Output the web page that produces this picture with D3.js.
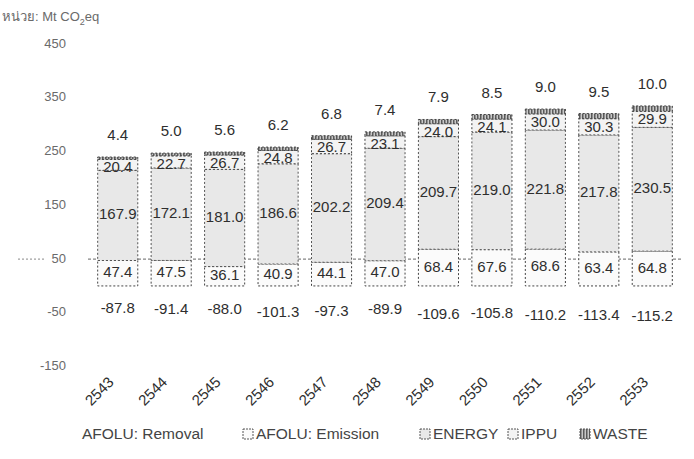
<!DOCTYPE html>
<html>
<head>
<meta charset="utf-8">
<script src="https://cdn.jsdelivr.net/npm/d3@7"></script>
<style>
	body { margin: 0; background: #fff; }
	svg { font-family: "Liberation Sans", Arial, sans-serif; }
	.axisText { fill: #6a6a6a; font-size: 13px; }
	.valueText { fill: #2e2e2e; font-size: 15px; }
	.legendText { fill: #444; font-size: 15.5px; }
</style>
</head>
<body>
<div id="chart"></div>
<script>

// chart data, values in Mt CO2eq
var years = ["2543","2544","2545","2546","2547","2548","2549","2550","2551","2552","2553"];
var afoluRemoval  = [-87.8, -91.4, -88.0, -101.3, -97.3, -89.9, -109.6, -105.8, -110.2, -113.4, -115.2];
var afoluEmission = [47.4, 47.5, 36.1, 40.9, 44.1, 47.0, 68.4, 67.6, 68.6, 63.4, 64.8];
var energy        = [167.9, 172.1, 181.0, 186.6, 202.2, 209.4, 209.7, 219.0, 221.8, 217.8, 230.5];
var ippu          = [20.4, 22.7, 26.7, 24.8, 26.7, 23.1, 24.0, 24.1, 30.0, 30.3, 29.9];
var waste         = [4.4, 5.0, 5.6, 6.2, 6.8, 7.4, 7.9, 8.5, 9.0, 9.5, 10.0];
var yTicks = [-150, -50, 50, 150, 250, 350, 450];
var seriesNames = ["AFOLU: Removal", "AFOLU: Emission", "ENERGY", "IPPU", "WASTE"];

var width = 694, height = 459;

var svg = d3.select("#chart").append("svg")
	.attr("width", width).attr("height", height);

// hatch pattern for the waste segments
var pat = svg.append("defs").append("pattern")
	.attr("id", "hatch")
	.attr("patternUnits", "userSpaceOnUse")
	.attr("width", 3).attr("height", 3);
pat.append("rect").attr("width", 3).attr("height", 3).attr("fill", "#c8c8c8");
pat.append("rect").attr("width", 1.5).attr("height", 3).attr("fill", "#5a5a5a");

var xScale = d3.scaleBand().domain(years).range([91, 679]).paddingInner(0.25).paddingOuter(0.125);
var yScale = d3.scaleLinear().domain([-150, 450]).range([366.5, 44.3]);

// y axis title and labels, no axis line in the original
svg.append("text")
	.attr("class", "axisText")
	.attr("font-size", "14px")
	.attr("x", 2).attr("y", 21)
	.html("หน่วย: Mt CO<tspan dy='4' font-size='9'>2</tspan><tspan dy='-4'>eq</tspan>");

svg.selectAll(".yLabel").data(yTicks).enter().append("text")
	.attr("class", "axisText yLabel")
	.attr("x", 66)
	.attr("y", function(d){ return yScale(d); })
	.attr("text-anchor", "end")
	.attr("dominant-baseline", "middle")
	.text(function(d){ return d; });

// dashed guide line at 50
svg.append("line")
	.attr("x1", 18).attr("x2", 44)
	.attr("y1", yScale(50)).attr("y2", yScale(50))
	.attr("stroke", "#888").attr("stroke-dasharray", "2,2");
svg.append("line")
	.attr("x1", 88).attr("x2", 682)
	.attr("y1", yScale(50)).attr("y2", yScale(50))
	.attr("stroke", "#666").attr("stroke-dasharray", "3,2");

// build stacked segments
var segments = [];
years.forEach(function(yr, i){
	segments.push({ year: yr, s: 0, y0: afoluRemoval[i], y1: 0, v: afoluRemoval[i] });
	var base = 0;
	[afoluEmission, energy, ippu, waste].forEach(function(arr, k){
		segments.push({ year: yr, s: k + 1, y0: base, y1: base + arr[i], v: arr[i] });
		base += arr[i];
	});
});

var fills = ["none", "#fbfbfb", "#e8e8e8", "#f3f3f3", "url(#hatch)"];
var strokes = ["none", "#444", "#555", "#444", "#444"];

svg.selectAll(".seg").data(segments).enter().append("rect")
	.attr("class", "seg")
	.attr("x", function(d){ return xScale(d.year); })
	.attr("width", xScale.bandwidth())
	.attr("y", function(d){ return yScale(Math.max(d.y0, d.y1)); })
	.attr("height", function(d){ return Math.abs(yScale(d.y0) - yScale(d.y1)); })
	.attr("fill", function(d){ return fills[d.s]; })
	.attr("stroke", function(d){ return strokes[d.s]; })
	.attr("stroke-width", 1)
	.attr("stroke-dasharray", "2,2");

// value labels: centred in segments, waste above the bar
svg.selectAll(".val").data(segments).enter().append("text")
	.attr("class", "valueText val")
	.attr("x", function(d){ return xScale(d.year) + xScale.bandwidth() / 2; })
	.attr("y", function(d){
		if (d.s == 4) return yScale(d.y1) - 21;
		if (d.s == 3) return yScale(d.y1) + 9;
		return yScale((d.y0 + d.y1) / 2);
	})
	.attr("text-anchor", "middle")
	.attr("dominant-baseline", "middle")
	.attr("fill", function(d){ return d.s == 4 ? "#5a5a5a" : "#2e2e2e"; })
	.text(function(d){ return d.v.toFixed(1); });

// rotated year labels
svg.selectAll(".xLabel").data(years).enter().append("text")
	.attr("class", "valueText xLabel")
	.attr("fill", "#444")
	.attr("text-anchor", "end")
	.attr("transform", function(d){
		return "translate(" + (xScale(d) + xScale.bandwidth() / 2 - 3) + ",383) rotate(-45)";
	})
	.text(function(d){ return d; });

// legend
var legendX = [82, 243, 420, 508, 580];
var legend = svg.selectAll(".legendItem").data(seriesNames).enter().append("g")
	.attr("class", "legendItem")
	.attr("transform", function(d, i){ return "translate(" + legendX[i] + ",438)"; });

legend.filter(function(d, i){ return i > 0; }).append("rect")
	.attr("x", 0).attr("y", -9)
	.attr("width", 10).attr("height", 10)
	.attr("fill", function(d, i){ return fills[i + 1]; })
	.attr("stroke", "#555")
	.attr("stroke-dasharray", "2,1");

legend.append("text")
	.attr("class", "legendText")
	.attr("x", function(d, i){ return i == 0 ? 0 : 13; })
	.attr("y", 0)
	.attr("dominant-baseline", "middle")
	.attr("dy", "-0.2em")
	.text(function(d){ return d; });

</script>
</body>
</html>
